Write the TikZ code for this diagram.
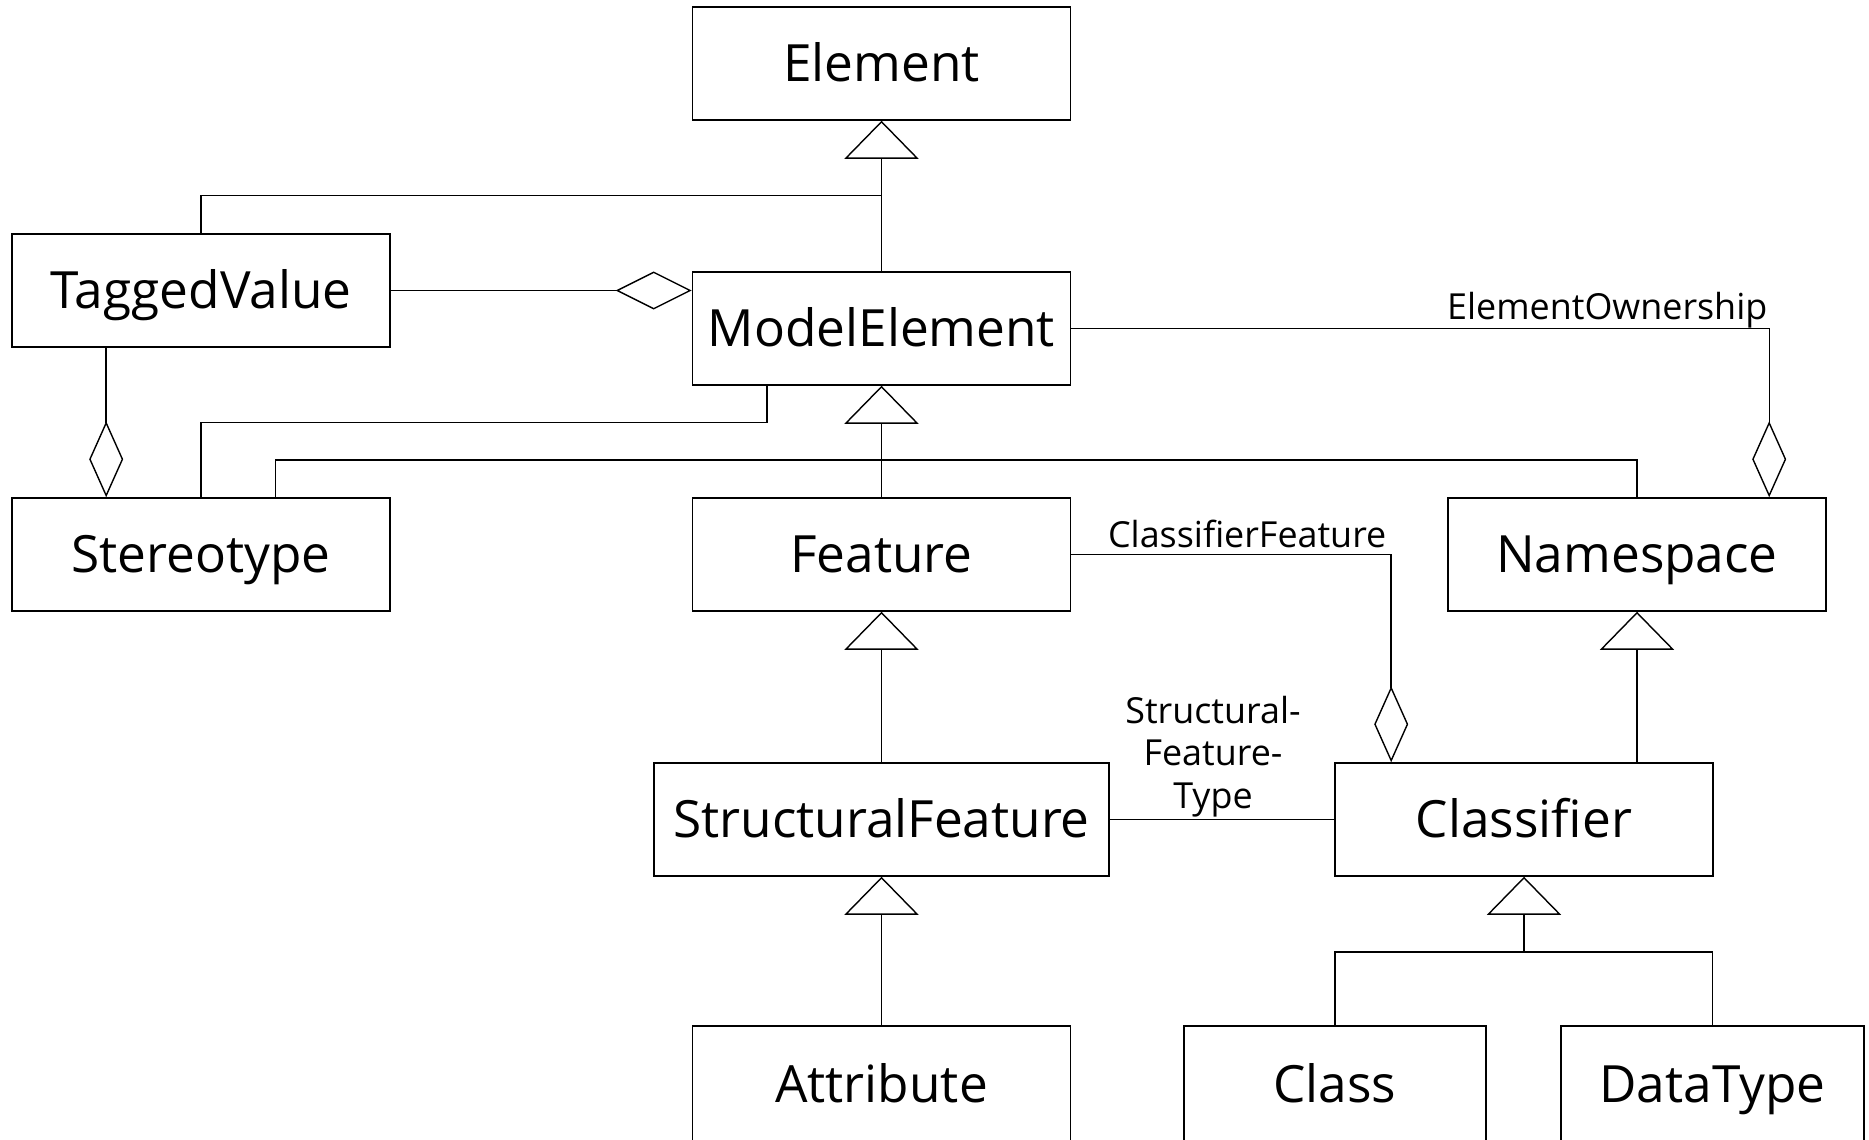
\documentclass[tikz,border=0pt]{standalone}
\usepackage{fontspec}
\setmainfont{Open Sans}
\usetikzlibrary{arrows.meta,calc}

\begin{document}
\begin{tikzpicture}[x=0.01cm,y=-0.01cm,line width=0.4pt,
  cls/.style={draw,fill=white,minimum width=3.78cm,minimum height=1.13cm,
    inner sep=0pt,font=\fontsize{14.6}{17}\selectfont,
    text height=10.4pt,text depth=0pt},
  lbl/.style={font=\fontsize{10.2}{11.95}\selectfont,inner sep=0pt},
  gen/.style={-{Triangle[open,length=0.38cm,width=0.74cm]}},
  aggh/.style={-{Diamond[open,length=0.76cm,width=0.38cm]}},
  aggv/.style={-{Diamond[open,length=0.76cm,width=0.34cm]}}]

  \fill[white] (0,0) rectangle (1869,1140);
  \useasboundingbox (0,0) rectangle (1869,1140);

  % classes
  \node[cls] (elem) at (881.5,63.5) {Element};
  \node[cls] (me)   at (881.5,328.5) {ModelElement};
  \node[cls] (tv)   at (201,290.5) {TaggedValue};
  \node[cls] (ster) at (201,554.5) {Stereotype};
  \node[cls] (feat) at (881.5,554.5) {Feature};
  \node[cls] (ns)   at (1637,554.5) {Namespace};
  \node[cls,minimum width=4.55cm] (sf) at (881.5,819.5) {StructuralFeature};
  \node[cls] (clsf) at (1524,819.5) {Classifier};
  \node[cls,minimum height=1.16cm] (attr) at (881.5,1084) {Attribute};
  \node[cls,minimum width=3.02cm,minimum height=1.16cm] (cl) at (1335,1084) {Class};
  \node[cls,minimum width=3.03cm,minimum height=1.16cm] (dt) at (1712.5,1084) {DataType};

  % generalizations
  \coordinate (j1) at (881.5,195.5);
  \draw[gen] (me.north) -- (elem.south);
  \draw (tv.north) |- (j1);

  \coordinate (bus) at (0,460);
  \draw[gen] (feat.north) -- (me.south);
  \draw ($(ster.north west)+(264.5,0)$) |- (bus -| ns.north) -- (ns.north);

  \draw[gen] (sf.north) -- (feat.south);
  \draw[gen] (clsf.north -| ns.south) -- (ns.south);
  \draw[gen] (attr.north) -- (sf.south);

  \coordinate (bus2) at (0,952);
  \draw[gen] (bus2 -| clsf.south) -- (clsf.south);
  \draw (cl.north) |- (bus2 -| dt.north) -- (dt.north);

  % associations
  \draw[aggh] (tv.east) -- (tv.east -| me.west);
  \draw[aggv] ($(tv.south west)+(95,0)$) -- ($(ster.north west)+(95,0)$);
  \draw (ster.north) |- ($(me.south west)+(75.5,37)$) -- ($(me.south west)+(75.5,0)$);

  \draw[aggv] (me.east) -| ($(ns.north west)+(322,0)$);
  \node[lbl,anchor=base east] at (1768,320) {ElementOwnership};

  \draw[aggv] (feat.east) -| ($(clsf.north west)+(57,0)$);
  \node[lbl,anchor=base east] at (1387,548) {ClassifierFeature};

  \draw (sf.east) -- (clsf.west);
  \node[lbl,align=center,anchor=north] at (1213,696) {Structural-\\Feature-\\Type};
\end{tikzpicture}
\end{document}
